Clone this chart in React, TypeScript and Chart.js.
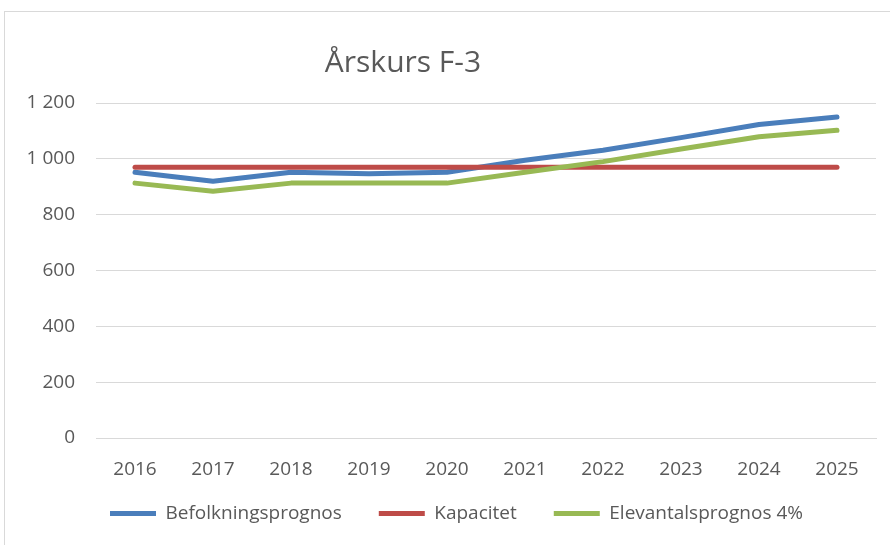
import React, { useEffect, useRef } from "react";
import { Chart, registerables } from "chart.js";

Chart.register(...registerables);

const years = ["2016", "2017", "2018", "2019", "2020", "2021", "2022", "2023", "2024", "2025"];
const befolkningsprognos = [952, 920, 952, 947, 952, 995, 1031, 1076, 1123, 1150];
const kapacitet = [970, 970, 970, 970, 970, 970, 970, 970, 970, 970];
const elevantalsprognos = [913, 884, 913, 913, 913, 952, 990, 1035, 1079, 1102];
const chartTitle = "Årskurs F-3";
const FONT = "'Open Sans', sans-serif";
const TEXT = "#595959";

const framePlugin = {
  id: "frame",
  beforeDraw(chart: any) {
    const ctx = chart.ctx;
    ctx.save();
    ctx.fillStyle = "#ffffff";
    ctx.fillRect(0, 0, chart.width, chart.height);
    ctx.strokeStyle = "#d9d9d9";
    ctx.lineWidth = 1;
    ctx.strokeRect(4.5, 11.5, chart.width + 20, chart.height + 20);
    ctx.restore();
  },
  afterLayout(chart: any) {
    const lg = chart.legend;
    if (lg) {
      lg.left = 73;
      lg.right = 889;
      lg.top = 467;
    }
  },
  afterDraw(chart: any) {
    const ctx = chart.ctx;
    ctx.save();
    ctx.fillStyle = TEXT;
    ctx.font = `30px ${FONT}`;
    ctx.textAlign = "center";
    ctx.textBaseline = "alphabetic";
    ctx.fillText(chartTitle, 403, 72);
    ctx.restore();
  },
};

export default function App() {
  const ref = useRef<HTMLCanvasElement>(null);
  useEffect(() => {
    const ds = (label: string, data: number[], color: string, order: number) => ({
      label,
      data,
      borderColor: color,
      backgroundColor: color,
      borderWidth: 5,
      pointRadius: 0,
      pointHoverRadius: 0,
      tension: 0,
      borderCapStyle: "round",
      borderJoinStyle: "round",
      fill: false,
      order,
    });
    const chart = new Chart(ref.current as HTMLCanvasElement, {
      type: "line",
      data: {
        labels: years,
        datasets: [
          ds("Befolkningsprognos", befolkningsprognos, "#4a7ebb", 2),
          ds("Kapacitet", kapacitet, "#be4b48", 1),
          ds("Elevantalsprognos 4%", elevantalsprognos, "#98b954", 0),
        ] as any,
      },
      options: {
        animation: false,
        responsive: false,
        maintainAspectRatio: false,
        layout: { padding: { left: 0, right: 14, top: 103, bottom: 0 } },
        plugins: {
          title: { display: false },
          tooltip: { enabled: false },
          legend: {
            position: "bottom",
            align: "start",
            labels: {
              color: TEXT,
              font: { family: FONT, size: 19 },
              usePointStyle: true,
              pointStyle: "line",
              pointStyleWidth: 46,
              boxHeight: 5,
              padding: 37,
              sort: (a: any, b: any) => a.datasetIndex - b.datasetIndex,
            },
          },
        },
        scales: {
          x: {
            offset: true,
            grid: { display: false, drawTicks: false },
            border: { display: true, color: "#d9d9d9", width: 1 },
            ticks: { color: TEXT, font: { family: FONT, size: 19 }, padding: 20, maxRotation: 0 },
            afterFit: (s: any) => { s.height = 41; },
          },
          y: {
            min: 0,
            max: 1200,
            grid: { color: "#d9d9d9", drawTicks: false, lineWidth: 1 },
            border: { display: false },
            ticks: {
              stepSize: 200,
              color: TEXT,
              font: { family: FONT, size: 19 },
              padding: 21,
              callback: (v: any) => String(v).replace(/\B(?=(\d{3})+(?!\d))/g, " "),
            },
            afterFit: (s: any) => { s.width = 96; },
          },
        },
      } as any,
      plugins: [framePlugin],
    });
    return () => chart.destroy();
  }, []);
  return (
    <div style={{ position: "fixed", left: 0, top: 0, width: 890, height: 545 }}>
      <canvas ref={ref} width={890} height={545} style={{ width: 890, height: 545 }} />
    </div>
  );
}
